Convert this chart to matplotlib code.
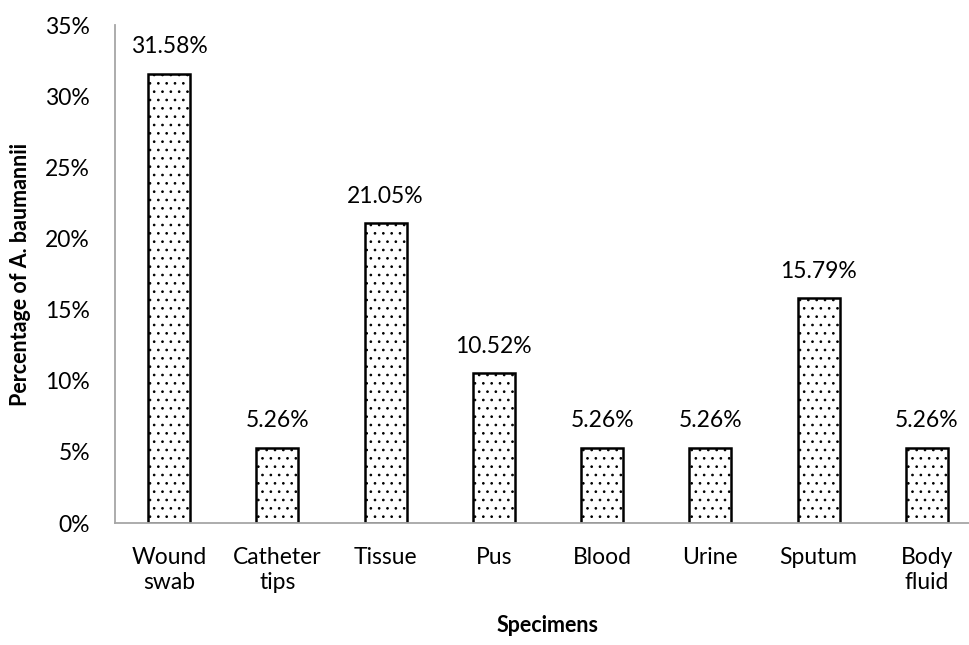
import matplotlib
matplotlib.use("Agg")
import matplotlib.pyplot as plt
from matplotlib.ticker import FuncFormatter

plt.rcParams["font.family"] = ["Lato", "DejaVu Sans"]
plt.rcParams["hatch.linewidth"] = 0.7
plt.rcParams["hatch.color"] = "black"

specimens = ["Wound\nswab", "Catheter\ntips", "Tissue", "Pus", "Blood",
             "Urine", "Sputum", "Body\nfluid"]
percentages = [31.58, 5.26, 21.05, 10.52, 5.26, 5.26, 15.79, 5.26]
y_ticks = [0, 5, 10, 15, 20, 25, 30, 35]

fig = plt.figure(figsize=(9.7, 6.45), dpi=100, facecolor="white")
ax = fig.add_axes([115 / 970, 122 / 645, 866 / 970, 498 / 645])

x = range(len(specimens))
ax.bar(x, percentages, width=0.39, color="white", edgecolor="black",
       linewidth=1.8, hatch="..", zorder=2)

for xi, val in zip(x, percentages):
    ax.annotate(f"{val:.2f}%", (xi, val), xytext=(0, 12), textcoords="offset points",
                ha="center", va="bottom", fontsize=16.5, color="black")

ax.set_xlim(-0.5, len(specimens) - 0.5)
ax.set_ylim(0, 35)
ax.set_yticks(y_ticks)
ax.yaxis.set_major_formatter(FuncFormatter(lambda v, _: f"{v:.0f}%"))
ax.set_xticks(list(x), specimens, fontsize=16.5, linespacing=1.25)
ax.tick_params(axis="y", labelsize=16.5, length=0, pad=18)
ax.tick_params(axis="x", length=0, pad=17)

for side in ("top", "right"):
    ax.spines[side].set_visible(False)
for side in ("left", "bottom"):
    ax.spines[side].set_color("#A6A6A6")
    ax.spines[side].set_linewidth(1.3)

ax.set_ylabel("Percentage of A. baumannii", fontsize=15.5, fontweight="bold",
              labelpad=10)
ax.set_xlabel("Specimens", fontsize=15.5, fontweight="bold", labelpad=16)

fig.savefig("out.png", dpi=100, facecolor="white")
